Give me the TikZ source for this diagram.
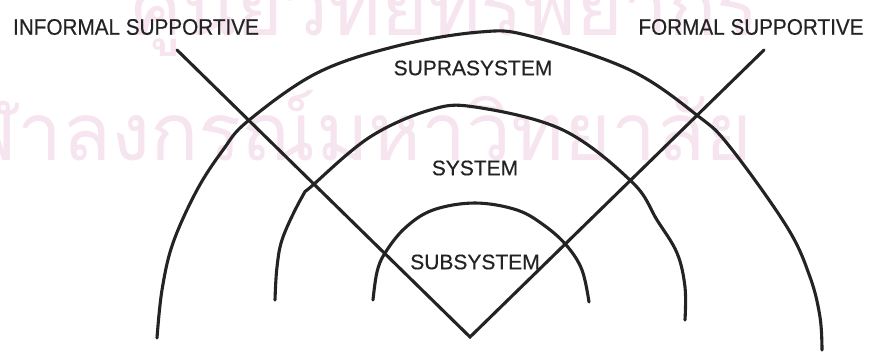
\documentclass[tikz,border=0pt]{standalone}
\usepackage{fontspec}
\setmainfont{Liberation Sans}
\newfontfamily\lblfont{Liberation Sans}[FakeBold=0.4]
\newfontfamily\toplblfont{Liberation Sans}[FakeBold=0.4, FakeStretch=0.92]
\newfontfamily\thaifont[Script=Thai]{Loma}
\definecolor{wmark}{RGB}{246,228,238}
\definecolor{ink}{RGB}{35,35,35}
\tikzset{
  ring/.style={line width=3.1pt, draw=ink, line cap=round, line join=round},
  spoke/.style={line width=3.1pt, draw=ink, line cap=round, line join=miter},
  lbl/.style={font=\lblfont\fontsize{21}{21}\selectfont, text=ink, inner sep=0pt},
  toplbl/.style={font=\toplblfont\fontsize{22.5}{22.5}\selectfont, text=ink, inner sep=0pt},
  wm/.style={font=\thaifont\fontsize{80}{80}\selectfont, text=wmark, inner sep=0pt}
}
\begin{document}
\begin{tikzpicture}[x=1pt,y=-1pt]
\fill[white] (0,0) rectangle (873,354);
\useasboundingbox (0,0) rectangle (873,354);
% watermark
\node[wm, anchor=base east] (wm1) at (760,35) {ศูนย์วิทยทรัพยากร};
\node[wm, anchor=base east] (wm2) at (752,160) {จุฬาลงกรณ์มหาวิทยาลัย};
% arcs
\draw[ring] plot[smooth, tension=0.6] coordinates {(157,338) (162,290) (173,243) (197,190) (223,150) (248,121) (317,73) (397,46) (480,32) (530,36) (630,70) (698,116) (730,147) (787,227) (810,277) (820,317) (822,350)};
\draw[ring] plot[smooth, tension=0.6] coordinates {(275,300) (277,267) (283,237) (302,197) (313,185) (370,137) (430,110) (475,107) (563,130) (632,182) (657,220) (677,253) (685,287) (685,320)};
\draw[ring] plot[smooth, tension=0.6] coordinates {(373,300) (377,272) (385,253) (405,228) (433,210) (475,203) (517,210) (545,226) (567,246) (582,270) (589,302)};
% V
\coordinate (lt) at (177,50);
\coordinate (v) at (470,337);
\coordinate (rt) at (764,50);
\draw[spoke] (lt) -- (v) -- (rt);
% labels
\node[toplbl] (inf) at (136,27) {INFORMAL SUPPORTIVE};
\node[toplbl] (form) at (751,27) {FORMAL SUPPORTIVE};
\node[lbl] (supra) at (473,68) {SUPRASYSTEM};
\node[lbl] (sys) at (475,168) {SYSTEM};
\node[lbl] (sub) at (475,262) {SUBSYSTEM};
\end{tikzpicture}
\end{document}
